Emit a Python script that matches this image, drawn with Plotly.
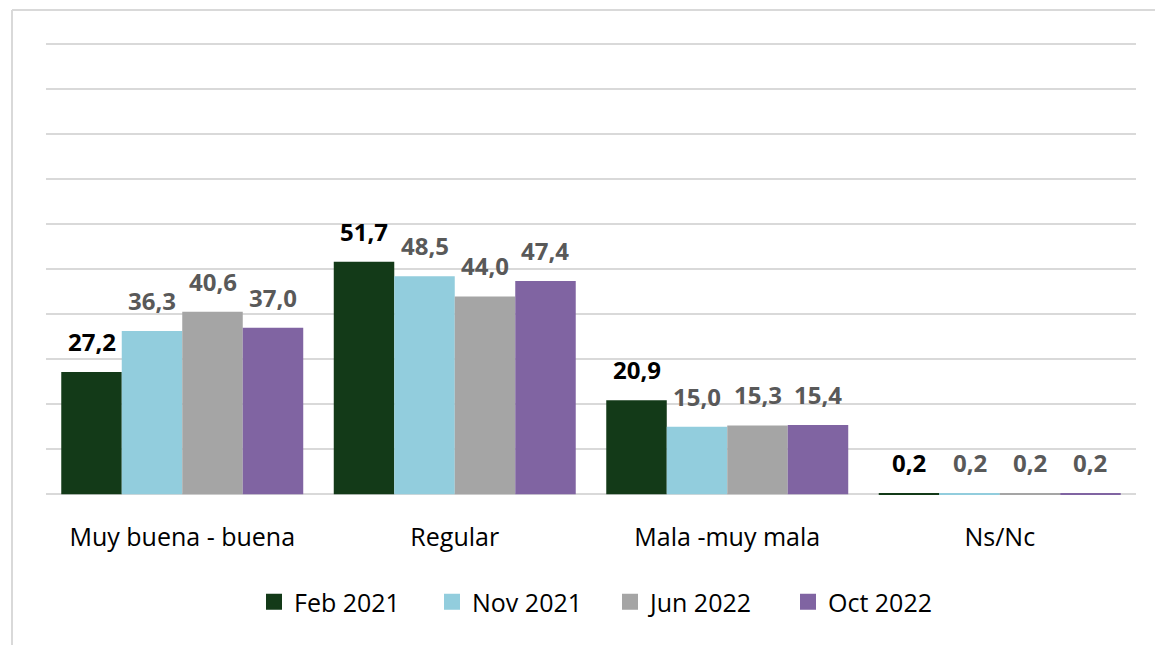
import plotly.graph_objects as go

categories = ["Muy buena - buena", "Regular", "Mala -muy mala", "Ns/Nc"]
series_names = ["Feb 2021", "Nov 2021", "Jun 2022", "Oct 2022"]
feb_2021 = [27.2, 51.7, 20.9, 0.2]
nov_2021 = [36.3, 48.5, 15.0, 0.2]
jun_2022 = [40.6, 44.0, 15.3, 0.2]
oct_2022 = [37.0, 47.4, 15.4, 0.2]

series_values = [feb_2021, nov_2021, jun_2022, oct_2022]
colors = ["#133A18", "#92CDDD", "#A5A5A5", "#8064A2"]
text_colors = ["#000000", "#595959", "#595959", "#595959"]

FONT = "Open Sans"
BARGAP = 0.112
Y_RANGE = [-0.6, 103]

W, H = 1155, 645
ml, mr, mt, mb = 46, 19, 31, 148
pw, ph = W - ml - mr, H - mt - mb


def px_x(p):
    return (p - ml) / pw


def px_y(p):
    return (H - mb - p) / ph


fig = go.Figure()
n = len(series_names)
bw = (1 - BARGAP) / n
annotations = []
for j, (name, vals, c, tc) in enumerate(zip(series_names, series_values, colors, text_colors)):
    fig.add_trace(go.Bar(
        x=categories, y=vals, name=name, showlegend=False,
        marker=dict(color=c, line=dict(width=0)),
        hoverinfo="x+y+name",
    ))
    # legend entry with a larger square swatch
    fig.add_trace(go.Scatter(
        x=[None], y=[None], mode="markers", name=name,
        marker=dict(symbol="square", size=17, color=c),
        showlegend=True,
    ))
    for i, v in enumerate(vals):
        annotations.append(dict(
            x=i - (1 - BARGAP) / 2 + (j + 0.5) * bw, y=v,
            xref="x", yref="y",
            text=f"{v:.1f}".replace(".", ","),
            showarrow=False, yanchor="bottom", xanchor="center",
            yshift=12,
            font=dict(family=FONT, size=24, color=tc, weight="bold"),
        ))

fig.update_layout(
    width=W, height=H,
    margin=dict(l=ml, r=mr, t=mt, b=mb),
    paper_bgcolor="white", plot_bgcolor="white",
    separators=",.",
    barmode="group", bargap=BARGAP, bargroupgap=0,
    font=dict(family=FONT, color="#000000"),
    showlegend=True,
    legend=dict(
        orientation="h", x=px_x(254), xanchor="left", y=px_y(602), yanchor="middle",
        font=dict(family=FONT, size=25, color="#000000"),
        entrywidth=133, entrywidthmode="pixels",
        itemwidth=30, traceorder="normal",
    ),
    xaxis=dict(
        showgrid=False, showline=False, zeroline=False,
        tickfont=dict(family=FONT, size=25, color="#000000"),
        ticks="", ticklabelstandoff=23,
    ),
    yaxis=dict(
        range=Y_RANGE, tickmode="linear", tick0=0, dtick=10, showticklabels=False,
        showgrid=True, gridcolor="#D9D9D9", gridwidth=1.5,
        zeroline=False, showline=False, ticks="",
    ),
    annotations=annotations,
    shapes=[
        dict(type="line", xref="paper", yref="paper",
             x0=px_x(12), x1=px_x(12), y0=px_y(10), y1=px_y(645),
             line=dict(color="#D9D9D9", width=2)),
        dict(type="line", xref="paper", yref="paper",
             x0=px_x(12), x1=px_x(1160), y0=px_y(10), y1=px_y(10),
             line=dict(color="#D9D9D9", width=2)),
    ],
)

fig.write_html("out.html", config={"displayModeBar": False},
               post_script="document.body.style.margin='0px';")
